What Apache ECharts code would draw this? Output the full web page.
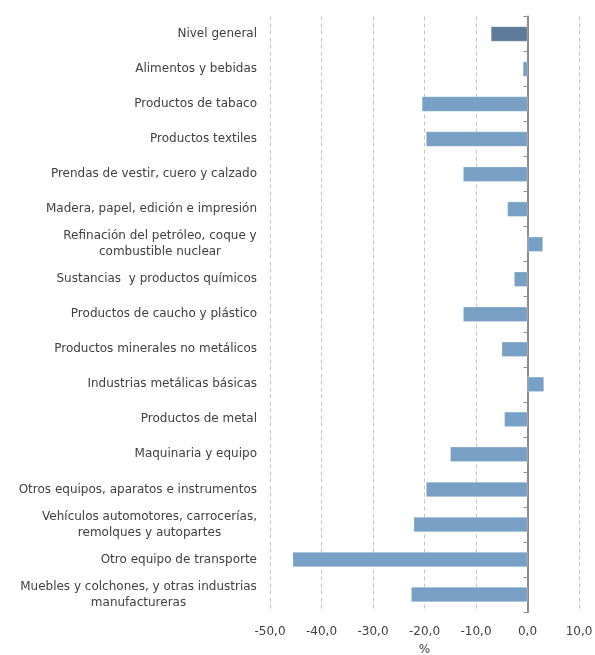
<!DOCTYPE html>
<html>
<head>
<meta charset="utf-8">
<script src="https://cdn.jsdelivr.net/npm/echarts@6/dist/echarts.min.js"></script>
<style>
  html, body { margin: 0; padding: 0; background: #fff; }
  #chart { width: 595px; height: 655px; }
</style>
</head>
<body>
<div id="chart"></div>
<script>
// Industry sectors, top to bottom (multi-line names split with \n)
const categories = [
  'Nivel general',
  'Alimentos y bebidas',
  'Productos de tabaco',
  'Productos textiles',
  'Prendas de vestir, cuero y calzado',
  'Madera, papel, edición e impresión',
  'Refinación del petróleo, coque y\ncombustible nuclear',
  'Sustancias  y productos químicos',
  'Productos de caucho y plástico',
  'Productos minerales no metálicos',
  'Industrias metálicas básicas',
  'Productos de metal',
  'Maquinaria y equipo',
  'Otros equipos, aparatos e instrumentos',
  'Vehículos automotores, carrocerías,\nremolques y autopartes',
  'Otro equipo de transporte',
  'Muebles y colchones, y otras industrias\nmanufactureras'
];

// Percentage change per sector
const values = [-7.1, -0.9, -20.5, -19.7, -12.5, -3.9, 3.0, -2.6, -12.5, -5.0, 3.2, -4.5, -15.0, -19.7, -22.1, -45.6, -22.6];

// Value axis range and step
const axisMin = -50;
const axisMax = 10;
const axisStep = 10;

const FAMILY = '"DejaVu Sans", sans-serif';
const SIZE = 12;
const LABEL_COLOR = '#404040';

// Multi-line names: centre each line inside a box as wide as the longest line
const ctx = document.createElement('canvas').getContext('2d');
ctx.font = SIZE + 'px ' + FAMILY;
const rich = {};
const labelText = {};
categories.forEach((name, i) => {
  const lines = name.split('\n');
  if (lines.length > 1) {
    const w = Math.ceil(Math.max(...lines.map(l => ctx.measureText(l).width)));
    const key = 'c' + i;
    rich[key] = { width: w, align: 'center', fontSize: SIZE, color: LABEL_COLOR, lineHeight: 16,
                  fontFamily: FAMILY };
    labelText[name] = lines.map(l => '{' + key + '|' + l + '}').join('\n');
  } else {
    labelText[name] = name;
  }
});

const chart = echarts.init(document.getElementById('chart'), null, { renderer: 'canvas' });

chart.setOption({
  animation: false,
  grid: { left: 270, right: 16, top: 16.5, bottom: 43, containLabel: false, outerBoundsMode: 'none' },
  xAxis: {
    type: 'value',
    min: axisMin,
    max: axisMax,
    interval: axisStep,
    name: '%',
    nameLocation: 'middle',
    nameGap: 32,
    nameTextStyle: { color: LABEL_COLOR, fontSize: SIZE, fontFamily: FAMILY },
    axisLine: { show: false },
    axisTick: { show: false },
    axisLabel: {
      margin: 14,
      color: LABEL_COLOR,
      fontSize: SIZE,
      fontFamily: FAMILY,
      formatter: v => v.toFixed(1).replace('.', ',')
    },
    splitLine: { show: true, lineStyle: { color: '#c4c4c4', type: [4, 3], width: 1 } }
  },
  yAxis: [
    {
      // sector names at the left edge of the plot
      type: 'category',
      data: categories,
      inverse: true,
      position: 'left',
      axisLine: { show: false, onZero: false },
      axisTick: { show: false },
      axisLabel: {
        margin: 13,
        color: LABEL_COLOR,
        fontSize: SIZE,
        lineHeight: 16,
        fontFamily: FAMILY,
        formatter: v => labelText[v],
        rich: rich
      },
      splitLine: { show: false }
    },
    {
      // zero line with category boundary ticks
      type: 'category',
      data: categories,
      inverse: true,
      position: 'left',
      axisLine: { show: true, onZero: true, lineStyle: { color: '#8c8c8c', width: 2 } },
      axisTick: { show: true, length: 4, lineStyle: { color: '#8c8c8c', width: 1 } },
      axisLabel: { show: false },
      splitLine: { show: false }
    }
  ],
  series: [{
    type: 'bar',
    yAxisIndex: 0,
    barWidth: 15,
    data: values.map((v, i) => ({
      value: v,
      itemStyle: { color: i === 0 ? '#5f7b99' : '#77a0c4' }
    })),
    itemStyle: { borderColor: 'rgba(255,255,255,0.5)', borderWidth: 0.5 }
  }]
});
</script>
</body>
</html>
